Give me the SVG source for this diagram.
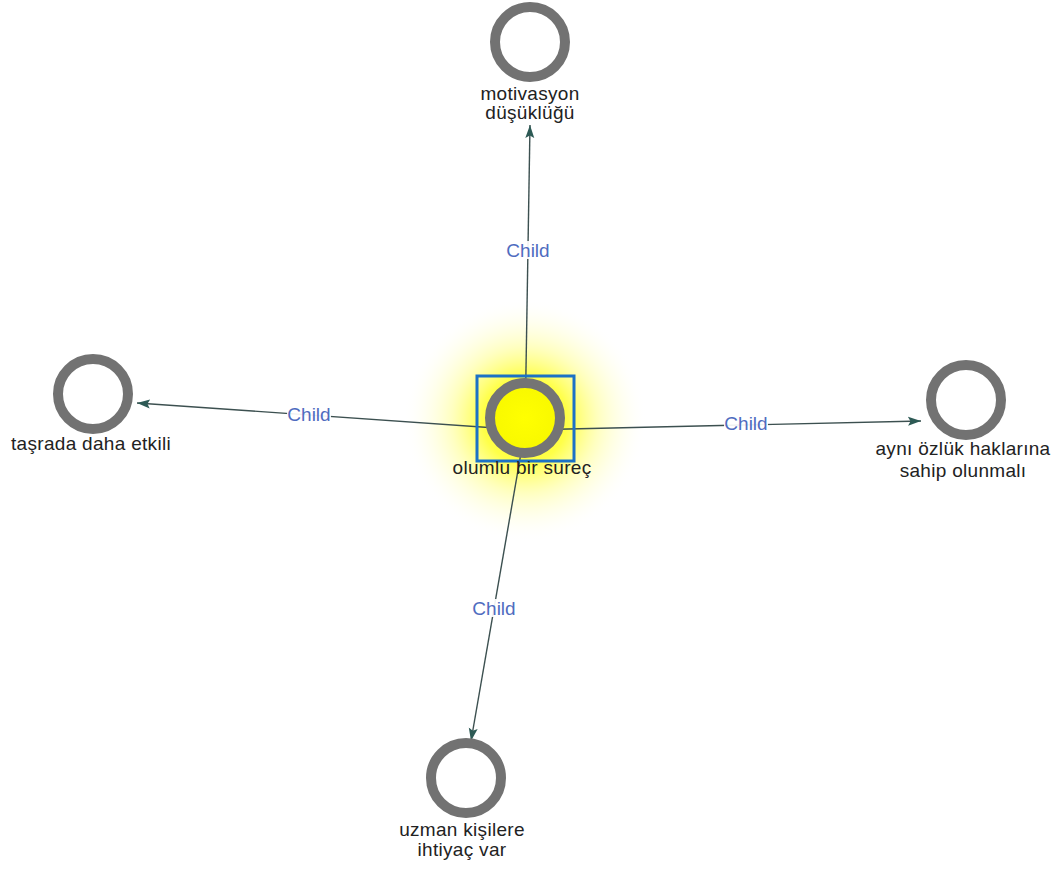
<svg xmlns="http://www.w3.org/2000/svg" width="1064" height="869" viewBox="0 0 1064 869">
<style>
.ring{fill:#ffffff;stroke:#727272;stroke-width:10}
.lbl{font-family:"Liberation Sans",Arial,sans-serif;font-size:19px;letter-spacing:0.3px;fill:#222222;text-anchor:middle}
.edge{stroke:#3c5050;stroke-width:1.4;fill:none;marker-end:url(#arr)}
.el{font-family:"Liberation Sans",Arial,sans-serif;font-size:19px;fill:#4f6cc0;text-anchor:middle}
.elbg{fill:#ffffff;fill-opacity:0.92}
</style>
<defs>
<marker id="arr" markerUnits="userSpaceOnUse" markerWidth="14" markerHeight="10" refX="13" refY="5" orient="auto">
<path d="M0,0.5 L13,5 L0,9.5 L2.5,5 z" fill="#2d5a55"/>
</marker>
<radialGradient id="glow" cx="525" cy="420" r="122" gradientUnits="userSpaceOnUse">
<stop offset="0" stop-color="#ffff00" stop-opacity="1"/>
<stop offset="0.35" stop-color="#ffff30" stop-opacity="0.88"/>
<stop offset="0.6" stop-color="#ffff80" stop-opacity="0.5"/>
<stop offset="0.85" stop-color="#ffffc8" stop-opacity="0.18"/>
<stop offset="1" stop-color="#ffffff" stop-opacity="0"/>
</radialGradient>
<radialGradient id="core" cx="0.5" cy="0.5" r="0.5">
<stop offset="0" stop-color="#ffff00"/>
<stop offset="1" stop-color="#f8f800"/>
</radialGradient>
</defs>
<rect width="1064" height="869" fill="#ffffff"/>
<circle cx="525" cy="420" r="122" fill="url(#glow)"/>
<g id="connectors">
<line class="edge" x1="525" y1="430" x2="530" y2="125"/>
<line class="edge" x1="525" y1="430" x2="137" y2="403"/>
<line class="edge" x1="525" y1="430" x2="921" y2="421"/>
<line class="edge" x1="525" y1="430" x2="471" y2="741"/>
<g id="edge-labels">
<rect class="elbg" x="506" y="241" width="44" height="18"/>
<text class="el" x="528" y="257">Child</text>
<rect class="elbg" x="287" y="406" width="44" height="16"/>
<text class="el" x="309" y="421">Child</text>
<rect class="elbg" x="724" y="415" width="44" height="16"/>
<text class="el" x="746" y="430">Child</text>
<rect class="elbg" x="472" y="599" width="44" height="18"/>
<text class="el" x="494" y="615">Child</text>
</g>
</g>
<g id="node-center">
<circle cx="525" cy="418" r="35" fill="url(#core)" stroke="#747474" stroke-width="10"/>
<rect x="477" y="376" width="97" height="85" fill="none" stroke="#1c72c6" stroke-width="3"/>
<text class="lbl" x="522" y="474">olumlu bir sureç</text>
</g>
<g id="node-top">
<circle class="ring" cx="530" cy="42" r="35"/>
<text class="lbl" x="530" y="100">motivasyon</text>
<text class="lbl" x="530" y="119">düşüklüğü</text>
</g>
<g id="node-left">
<circle class="ring" cx="93" cy="394" r="35"/>
<text class="lbl" x="91" y="450">taşrada daha etkili</text>
</g>
<g id="node-right">
<circle class="ring" cx="966" cy="400" r="35"/>
<text class="lbl" x="963" y="455">aynı özlük haklarına</text>
<text class="lbl" x="963" y="477">sahip olunmalı</text>
</g>
<g id="node-bottom">
<circle class="ring" cx="466" cy="778" r="35"/>
<text class="lbl" x="462" y="836">uzman kişilere</text>
<text class="lbl" x="462" y="856">ihtiyaç var</text>
</g>
</svg>
